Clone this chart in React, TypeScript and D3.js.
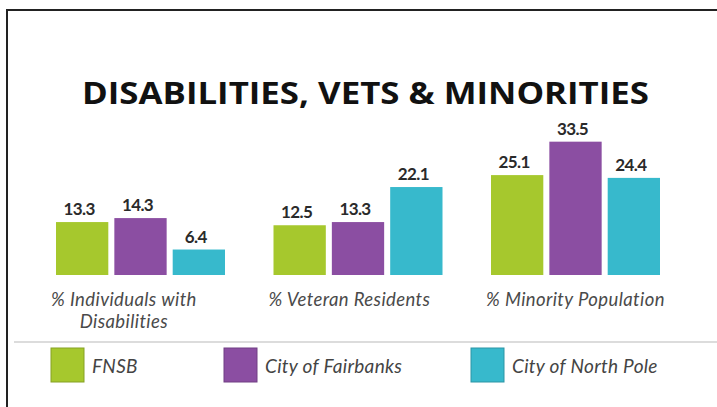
import React, { useEffect, useRef } from "react";
import * as d3 from "d3";

const categories = ["% Individuals with|Disabilities", "% Veteran Residents", "% Minority Population"];
const series = ["FNSB", "City of Fairbanks", "City of North Pole"];
const fnsb = [13.3, 12.5, 25.1];
const fairbanks = [14.3, 13.3, 33.5];
const northPole = [6.4, 22.1, 24.4];
const colors = ["#a6c82d", "#8b4ea2", "#37b9cc"];
const title = "DISABILITIES, VETS & MINORITIES";

export default function App() {
  const ref = useRef<SVGSVGElement>(null);
  useEffect(() => {
    const svg = d3.select(ref.current);
    svg.selectAll("*").remove();
    const W = 717, H = 407;
    const values = [fnsb, fairbanks, northPole];

    svg.append("rect").attr("width", W).attr("height", H).attr("fill", "#fff");
    svg.append("path").attr("d", `M7,${H} L7,10 L${W},10`).attr("fill", "none")
      .attr("stroke", "#222").attr("stroke-width", 2);

    svg.append("text").attr("x", 82).attr("y", 104)
      .attr("font-family", "'Open Sans', sans-serif").attr("font-weight", 700)
      .attr("font-size", 31).attr("fill", "#111")
      .attr("textLength", 567).attr("lengthAdjust", "spacingAndGlyphs")
      .text(title);

    const x0 = d3.scaleBand().domain(categories).range([56, 660]).paddingInner(0.223).paddingOuter(0);
    const x1 = d3.scaleBand().domain(series).range([0, x0.bandwidth()]).paddingInner(0.1035);
    const y = d3.scaleLinear().domain([0, 35]).range([275, 275 - 35 * 3.98]);

    const g = svg.append("g");
    categories.forEach((c, ci) => {
      series.forEach((s, si) => {
        const v = values[si][ci];
        const bx = x0(c)! + x1(s)!;
        g.append("rect").attr("x", bx).attr("y", y(v)).attr("width", x1.bandwidth())
          .attr("height", y(0) - y(v)).attr("fill", colors[si]);
        g.append("text").attr("x", bx + x1.bandwidth() / 2 - 3).attr("y", y(v) - 7)
          .attr("text-anchor", "middle").attr("font-family", "Lato, sans-serif")
          .attr("font-weight", 700).attr("font-size", 17).attr("fill", "#2a2a2a")
          .attr("letter-spacing", -0.6)
          .text(v.toFixed(1));
      });
      const lines = c.split("|");
      const t = g.append("text").attr("font-family", "Lato, sans-serif").attr("font-style", "italic")
        .attr("font-size", 18.5).attr("letter-spacing", 0.4).attr("fill", "#4a4a4a").attr("text-anchor", "middle");
      const tsp = lines.map((l, li) => t.append("tspan").attr("y", 306 + li * 22).text(l));
      const w = (tsp[0].node() as SVGTextContentElement).getComputedTextLength();
      const cx = x0(c)! - 5 + w / 2;
      tsp.forEach((ts) => ts.attr("x", cx));
    });

    svg.append("line").attr("x1", 14).attr("x2", W).attr("y1", 342).attr("y2", 342)
      .attr("stroke", "#d0d0d0").attr("stroke-width", 1.5);

    const legendX = [51, 224, 471];
    series.forEach((s, si) => {
      svg.append("rect").attr("x", legendX[si]).attr("y", 348).attr("width", 33).attr("height", 34)
        .attr("fill", colors[si]).attr("stroke", d3.color(colors[si])!.darker(0.6).toString())
        .attr("stroke-width", 1);
      svg.append("text").attr("x", legendX[si] + 41).attr("y", 373)
        .attr("font-family", "Lato, sans-serif").attr("font-style", "italic")
        .attr("font-size", 19).attr("letter-spacing", 0.3).attr("fill", "#444").text(s);
    });
  }, []);
  return (
    <svg ref={ref} width={717} height={407} style={{ position: "absolute", left: 0, top: 0 }} />
  );
}
